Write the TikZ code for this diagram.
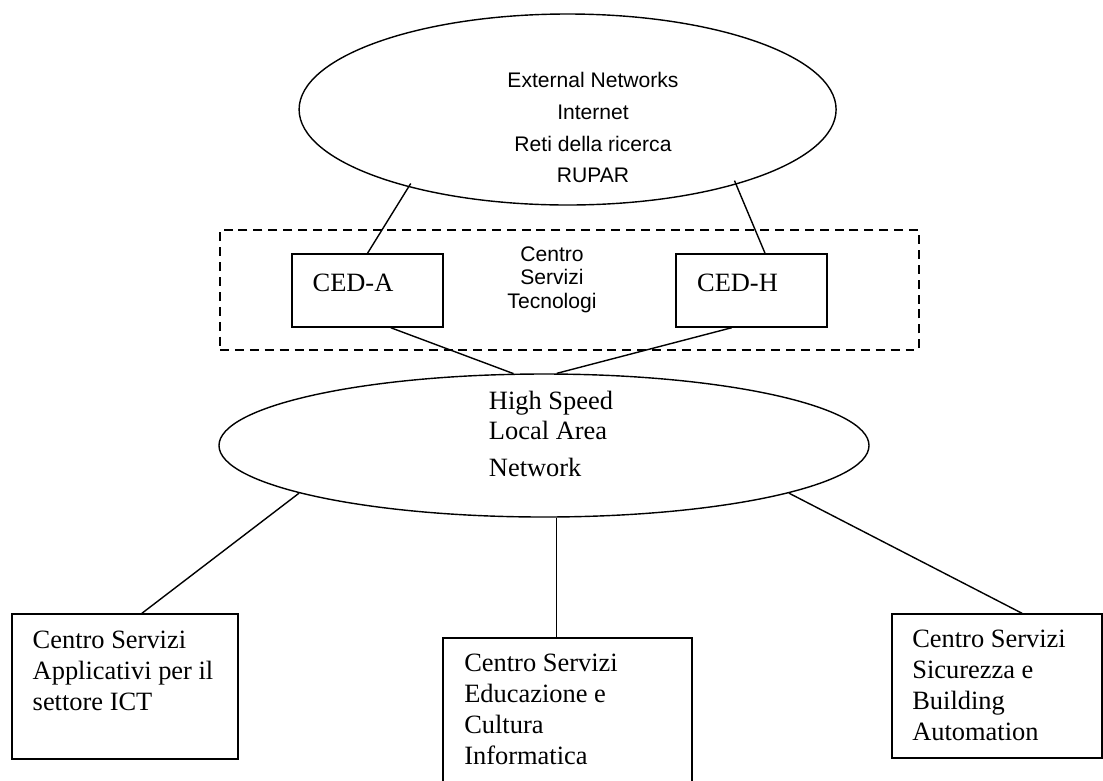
\documentclass[tikz,border=0pt]{standalone}
\usepackage{fontspec}
\setmainfont{Liberation Serif}
\setsansfont{Liberation Sans}
\usepackage{tikz}
\usetikzlibrary{shapes}
\usetikzlibrary{positioning}
\tikzset{
    netnode/.style = {ellipse, draw=black, line width=1pt, inner sep=0pt},
    cedbox/.style = {rectangle, draw=black, line width=1pt, minimum width=3.775cm, minimum height=1.825cm},
    centrebox/.style = {rectangle, draw=black, line width=1pt},
    areabox/.style = {rectangle, draw=black, line width=1.3pt, dash pattern=on 6.4pt off 4.2pt, minimum width=17.475cm, minimum height=2.99cm},
    sanstext/.style = {align=center, inner sep=0pt, font=\sffamily\fontsize{15}{22.7}\selectfont},
    seriftext/.style = {align=left, inner sep=0pt, font=\fontsize{18.8}{22}\selectfont},
    link/.style = {line width=1pt, draw=black}
}

\begin{document}
\begin{tikzpicture}
  \useasboundingbox (0,0) rectangle (27.575,-19.5);
  % external networks
  \node[netnode, minimum width=13.425cm, minimum height=4.775cm] (ext) at (14.19,-2.7375) {};
  \node[sanstext] (exttext) at (14.825,-3.1875) {External Networks\\Internet\\Reti della ricerca\\RUPAR};

  % centro servizi tecnologi
  \node[areabox] (tech) at (14.2375,-7.245) {};
  \node[sanstext, font=\sffamily\fontsize{15}{16.7}\selectfont] (techtext) at (13.8,-6.995) {Centro\\Servizi\\Tecnologi};
  \node[cedbox] (cedA) at (9.1875,-7.2625) {};
  \node[cedbox] (cedH) at (18.7875,-7.2625) {};
  \node[seriftext] (cedAtext) at (8.825,-7.075) {CED-A};
  \node[seriftext] (cedHtext) at (18.4375,-7.075) {CED-H};

  % lan
  \node[netnode, minimum width=16.25cm, minimum height=3.575cm] (lan) at (13.6,-11.1375) {};
  \node[seriftext, font=\fontsize{18.8}{21.3}\selectfont] (lantext) at (13.775,-10.85) {High Speed\\Local Area\\[0.2cm]Network};

  % centri servizi
  \node[centrebox, minimum width=5.65cm, minimum height=3.625cm] (appl) at (3.125,-17.1625) {};
  \node[seriftext] (appltext) at (3.075,-16.775) {Centro Servizi\\Applicativi per il\\settore ICT};
  \node[centrebox, minimum width=6.225cm, minimum height=3.925cm] (edu) at (14.1875,-17.9125) {};
  \node[seriftext] (edutext) at (13.525,-17.7375) {Centro Servizi\\Educazione e\\Cultura\\Informatica};
  \node[centrebox, minimum width=5.25cm, minimum height=3.6cm] (sec) at (24.925,-17.15) {};
  \node[seriftext] (sectext) at (24.725,-17.1375) {Centro Servizi\\Sicurezza e\\Building\\Automation};

  \draw[link, shorten <=-3pt] (ext.206) -- (cedA.north);
  \draw[link, shorten <=-3pt] (ext.336) -- (cedH.70);
  \draw[link] (cedA.302) -- (lan.113);
  \draw[link] (cedH.242) -- (lan.80);
  \draw[link] (lan.191) -- (appl.77);
  \draw[link] (lan.280) -- (lan.280 |- edu.north);
  \draw[link] (lan.349) -- (sec.71);
\end{tikzpicture}
\end{document}
